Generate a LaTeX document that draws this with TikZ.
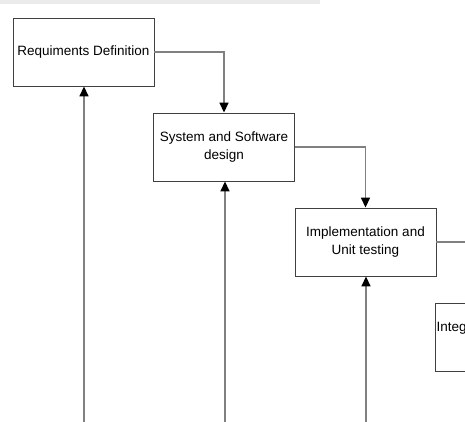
\documentclass[tikz,border=0pt]{standalone}
\usepackage{fontspec}
\setmainfont{Liberation Sans}
\usetikzlibrary{arrows.meta}
\begin{document}
\begin{tikzpicture}[x=1pt,y=-1pt,
  stagebox/.style={draw=black!75,line width=0.9pt,fill=white,minimum width=141pt,minimum height=68pt,inner sep=0pt,align=center,font=\fontsize{13.5}{18}\selectfont},
  flow/.style={draw=black!50,line width=1.6pt,-{Triangle[length=10pt,width=9pt,color=black]}}]
\useasboundingbox (0,0) rectangle (465,421);
\clip (0,0) rectangle (465,421);
\fill[black!8] (0,0) rectangle (320,4);
\node[stagebox] (b1) at (83.5,52) {Requiments Definition};
\node[stagebox] (b2) at (224,147) {System and Software\\design};
\node[stagebox] (b3) at (365.5,242) {Implementation and\\Unit testing};
\node[stagebox] (b4) at (506,337) {Integration and System\\testing};
\coordinate (u1) at (84,425);
\coordinate (u2) at (225,425);
\coordinate (u3) at (366,425);
\draw[flow] (b1.east) -| (b2.north);
\draw[flow] (b2.east) -| (b3.north);
\draw[flow] (b3.east) -| (b4.north);
\draw[flow] (u1) -- (u1 |- b1.south);
\draw[flow] (u2) -- (u2 |- b2.south);
\draw[flow] (u3) -- (u3 |- b3.south);
\end{tikzpicture}
\end{document}
